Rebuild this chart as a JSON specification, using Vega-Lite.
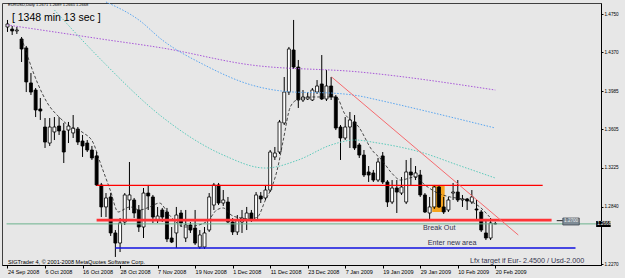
{
  "$schema": "https://vega.github.io/schema/vega-lite/v6.json",
  "width": 599,
  "height": 262,
  "autosize": "none",
  "padding": {"left": 2, "top": 3, "right": 24, "bottom": 13},
  "background": "#e7e7e7",
  "config": {"view": {"stroke": "#404040", "strokeWidth": 1, "fill": "#e7e7e7"}, "font": "Liberation Sans"},
  "datasets": {
    "candles": [
      {"i":0,"o":1.4621,"h":1.4691,"l":1.4572,"c":1.4651},
      {"i":1,"o":1.4601,"h":1.4631,"l":1.4542,"c":1.4582},
      {"i":2,"o":1.4582,"h":1.4621,"l":1.4552,"c":1.4591},
      {"i":3,"o":1.4502,"h":1.4522,"l":1.4274,"c":1.4403},
      {"i":4,"o":1.4413,"h":1.4433,"l":1.3976,"c":1.4076},
      {"i":5,"o":1.4066,"h":1.4165,"l":1.3947,"c":1.3976},
      {"i":6,"o":1.3996,"h":1.4016,"l":1.3728,"c":1.3798},
      {"i":7,"o":1.3808,"h":1.3917,"l":1.3699,"c":1.3788},
      {"i":8,"o":1.3629,"h":1.3718,"l":1.3421,"c":1.3480},
      {"i":9,"o":1.3470,"h":1.3718,"l":1.3441,"c":1.3629},
      {"i":10,"o":1.3580,"h":1.3728,"l":1.3500,"c":1.3629},
      {"i":11,"o":1.3639,"h":1.3728,"l":1.3550,"c":1.3590},
      {"i":12,"o":1.3590,"h":1.3669,"l":1.3272,"c":1.3381},
      {"i":13,"o":1.3599,"h":1.3679,"l":1.3470,"c":1.3639},
      {"i":14,"o":1.3570,"h":1.3748,"l":1.3520,"c":1.3619},
      {"i":15,"o":1.3609,"h":1.3629,"l":1.3451,"c":1.3480},
      {"i":16,"o":1.3490,"h":1.3550,"l":1.3332,"c":1.3441},
      {"i":17,"o":1.3470,"h":1.3500,"l":1.3381,"c":1.3401},
      {"i":18,"o":1.3401,"h":1.3441,"l":1.3302,"c":1.3322},
      {"i":19,"o":1.3342,"h":1.3381,"l":1.3044,"c":1.3054},
      {"i":20,"o":1.3054,"h":1.3074,"l":1.2736,"c":1.2836},
      {"i":21,"o":1.2836,"h":1.2974,"l":1.2736,"c":1.2925},
      {"i":22,"o":1.2935,"h":1.2974,"l":1.2548,"c":1.2578},
      {"i":23,"o":1.2578,"h":1.2607,"l":1.2340,"c":1.2478},
      {"i":24,"o":1.2478,"h":1.2726,"l":1.2389,"c":1.2677},
      {"i":25,"o":1.2687,"h":1.2974,"l":1.2657,"c":1.2955},
      {"i":26,"o":1.2905,"h":1.3282,"l":1.2806,"c":1.2955},
      {"i":27,"o":1.2905,"h":1.2925,"l":1.2726,"c":1.2776},
      {"i":28,"o":1.2806,"h":1.2855,"l":1.2588,"c":1.2637},
      {"i":29,"o":1.2637,"h":1.3024,"l":1.2528,"c":1.2974},
      {"i":30,"o":1.2974,"h":1.3054,"l":1.2806,"c":1.2945},
      {"i":31,"o":1.2935,"h":1.2955,"l":1.2677,"c":1.2736},
      {"i":32,"o":1.2707,"h":1.2836,"l":1.2677,"c":1.2746},
      {"i":33,"o":1.2806,"h":1.2826,"l":1.2687,"c":1.2736},
      {"i":34,"o":1.2786,"h":1.2826,"l":1.2488,"c":1.2518},
      {"i":35,"o":1.2528,"h":1.2637,"l":1.2478,"c":1.2488},
      {"i":36,"o":1.2578,"h":1.2836,"l":1.2429,"c":1.2756},
      {"i":37,"o":1.2776,"h":1.2806,"l":1.2637,"c":1.2677},
      {"i":38,"o":1.2528,"h":1.2806,"l":1.2488,"c":1.2657},
      {"i":39,"o":1.2657,"h":1.2687,"l":1.2578,"c":1.2607},
      {"i":40,"o":1.2627,"h":1.2806,"l":1.2459,"c":1.2478},
      {"i":41,"o":1.2439,"h":1.2607,"l":1.2419,"c":1.2558},
      {"i":42,"o":1.2439,"h":1.2637,"l":1.2419,"c":1.2578},
      {"i":43,"o":1.2607,"h":1.2974,"l":1.2588,"c":1.2935},
      {"i":44,"o":1.2855,"h":1.3074,"l":1.2806,"c":1.3054},
      {"i":45,"o":1.3054,"h":1.3074,"l":1.2855,"c":1.2875},
      {"i":46,"o":1.2875,"h":1.3004,"l":1.2846,"c":1.2905},
      {"i":47,"o":1.2885,"h":1.2935,"l":1.2677,"c":1.2687},
      {"i":48,"o":1.2687,"h":1.2726,"l":1.2558,"c":1.2588},
      {"i":49,"o":1.2588,"h":1.2756,"l":1.2558,"c":1.2707},
      {"i":50,"o":1.2687,"h":1.2806,"l":1.2578,"c":1.2726},
      {"i":51,"o":1.2707,"h":1.2836,"l":1.2607,"c":1.2776},
      {"i":52,"o":1.2776,"h":1.2806,"l":1.2687,"c":1.2707},
      {"i":53,"o":1.2707,"h":1.2984,"l":1.2697,"c":1.2955},
      {"i":54,"o":1.2945,"h":1.2984,"l":1.2875,"c":1.2915},
      {"i":55,"o":1.2925,"h":1.3054,"l":1.2905,"c":1.3004},
      {"i":56,"o":1.3004,"h":1.3401,"l":1.2984,"c":1.3381},
      {"i":57,"o":1.3332,"h":1.3431,"l":1.3302,"c":1.3371},
      {"i":58,"o":1.3381,"h":1.3699,"l":1.3361,"c":1.3679},
      {"i":59,"o":1.3669,"h":1.4125,"l":1.3649,"c":1.3976},
      {"i":60,"o":1.3976,"h":1.4423,"l":1.3947,"c":1.4403},
      {"i":61,"o":1.4393,"h":1.4691,"l":1.4205,"c":1.4224},
      {"i":62,"o":1.4224,"h":1.4294,"l":1.3818,"c":1.3897},
      {"i":63,"o":1.3897,"h":1.3996,"l":1.3877,"c":1.3927},
      {"i":64,"o":1.3907,"h":1.3976,"l":1.3897,"c":1.3927},
      {"i":65,"o":1.3897,"h":1.4016,"l":1.3887,"c":1.3996},
      {"i":66,"o":1.3976,"h":1.4095,"l":1.3957,"c":1.4036},
      {"i":67,"o":1.4056,"h":1.4343,"l":1.3897,"c":1.3907},
      {"i":68,"o":1.3907,"h":1.4195,"l":1.3887,"c":1.4036},
      {"i":69,"o":1.4036,"h":1.4125,"l":1.3897,"c":1.3927},
      {"i":70,"o":1.3927,"h":1.3947,"l":1.3599,"c":1.3619},
      {"i":71,"o":1.3629,"h":1.3649,"l":1.3302,"c":1.3520},
      {"i":72,"o":1.3520,"h":1.3728,"l":1.3500,"c":1.3629},
      {"i":73,"o":1.3629,"h":1.3778,"l":1.3421,"c":1.3699},
      {"i":74,"o":1.3679,"h":1.3748,"l":1.3401,"c":1.3421},
      {"i":75,"o":1.3451,"h":1.3470,"l":1.3322,"c":1.3351},
      {"i":76,"o":1.3351,"h":1.3401,"l":1.3133,"c":1.3153},
      {"i":77,"o":1.3183,"h":1.3242,"l":1.3084,"c":1.3153},
      {"i":78,"o":1.3173,"h":1.3203,"l":1.3084,"c":1.3103},
      {"i":79,"o":1.3103,"h":1.3322,"l":1.3084,"c":1.3282},
      {"i":80,"o":1.3342,"h":1.3381,"l":1.3064,"c":1.3084},
      {"i":81,"o":1.3084,"h":1.3103,"l":1.2836,"c":1.2885},
      {"i":82,"o":1.2885,"h":1.3103,"l":1.2865,"c":1.3024},
      {"i":83,"o":1.3024,"h":1.3103,"l":1.2776,"c":1.2984},
      {"i":84,"o":1.2974,"h":1.3133,"l":1.2955,"c":1.3034},
      {"i":85,"o":1.2885,"h":1.3302,"l":1.2865,"c":1.3183},
      {"i":86,"o":1.3183,"h":1.3322,"l":1.3044,"c":1.3153},
      {"i":87,"o":1.3133,"h":1.3242,"l":1.3103,"c":1.3173},
      {"i":88,"o":1.3153,"h":1.3203,"l":1.2935,"c":1.2955},
      {"i":89,"o":1.2955,"h":1.2974,"l":1.2776,"c":1.2786},
      {"i":90,"o":1.2776,"h":1.2935,"l":1.2707,"c":1.2836},
      {"i":91,"o":1.2836,"h":1.3054,"l":1.2816,"c":1.3034},
      {"i":92,"o":1.3034,"h":1.3054,"l":1.2826,"c":1.2836},
      {"i":93,"o":1.2836,"h":1.2935,"l":1.2766,"c":1.2786},
      {"i":94,"o":1.2806,"h":1.2935,"l":1.2786,"c":1.2905},
      {"i":95,"o":1.2974,"h":1.3074,"l":1.2905,"c":1.2984},
      {"i":96,"o":1.2984,"h":1.3103,"l":1.2885,"c":1.2905},
      {"i":97,"o":1.2905,"h":1.2955,"l":1.2836,"c":1.2915},
      {"i":98,"o":1.2915,"h":1.2925,"l":1.2806,"c":1.2895},
      {"i":99,"o":1.2885,"h":1.3004,"l":1.2865,"c":1.2935},
      {"i":100,"o":1.2816,"h":1.2905,"l":1.2717,"c":1.2806},
      {"i":101,"o":1.2786,"h":1.2806,"l":1.2588,"c":1.2607},
      {"i":102,"o":1.2578,"h":1.2717,"l":1.2508,"c":1.2528},
      {"i":103,"o":1.2528,"h":1.2726,"l":1.2508,"c":1.2677},
      {"i":104,"o":1.2671,"h":1.2689,"l":1.2665,"c":1.2668}
    ],
    "levels": [
      {"k":"up","i":19,"i2":114.1,"p":1.3050},
      {"k":"low","i":19,"i2":116,"p":1.2705},
      {"k":"bid","i":-0.2,"i2":125.5,"p":1.2668},
      {"k":"blue","i":23,"i2":121.1,"p":1.2429},
      {"k":"tick","i":117.1,"i2":118.4,"p":1.2700}
    ],
    "trend": [{"i":69.1,"i2":108.9,"p":1.4125,"p2":1.2558}],
    "mas": [
      {"k":"purple","i":0,"p":1.4641},{"k":"purple","i":10,"p":1.4572},{"k":"purple","i":20,"p":1.4502},{"k":"purple","i":33,"p":1.4413},{"k":"purple","i":52,"p":1.4244},{"k":"purple","i":75,"p":1.4175},{"k":"purple","i":104,"p":1.3996},
      {"k":"blue","i":21,"p":1.4869},{"k":"blue","i":28,"p":1.4691},{"k":"blue","i":33,"p":1.4492},{"k":"blue","i":42,"p":1.4244},{"k":"blue","i":52,"p":1.4046},{"k":"blue","i":61,"p":1.3976},{"k":"blue","i":69,"p":1.3966},{"k":"blue","i":75,"p":1.3937},{"k":"blue","i":79,"p":1.3897},{"k":"blue","i":90,"p":1.3778},{"k":"blue","i":104,"p":1.3619},
      {"k":"teal","i":10,"p":1.4790},{"k":"teal","i":20,"p":1.4294},{"k":"teal","i":33,"p":1.3728},{"k":"teal","i":46,"p":1.3351},{"k":"teal","i":55,"p":1.3222},{"k":"teal","i":62,"p":1.3302},{"k":"teal","i":69,"p":1.3451},{"k":"teal","i":74,"p":1.3500},{"k":"teal","i":79,"p":1.3470},{"k":"teal","i":88,"p":1.3381},{"k":"teal","i":96,"p":1.3252},{"k":"teal","i":104,"p":1.3123},
      {"k":"black","i":3,"p":1.4512},{"k":"black","i":6.4,"p":1.4066},{"k":"black","i":8.5,"p":1.3867},{"k":"black","i":11,"p":1.3728},{"k":"black","i":13.5,"p":1.3629},{"k":"black","i":16.2,"p":1.3570},{"k":"black","i":18.3,"p":1.3470},{"k":"black","i":19.8,"p":1.3272},{"k":"black","i":21.9,"p":1.3004},{"k":"black","i":23.6,"p":1.2786},{"k":"black","i":24.6,"p":1.2806},{"k":"black","i":26.1,"p":1.2836},{"k":"black","i":28.2,"p":1.2806},{"k":"black","i":30.3,"p":1.2836},{"k":"black","i":32.4,"p":1.2875},{"k":"black","i":34.5,"p":1.2756},{"k":"black","i":37.8,"p":1.2637},{"k":"black","i":40.8,"p":1.2657},{"k":"black","i":42.9,"p":1.2707},{"k":"black","i":44.6,"p":1.2806},{"k":"black","i":46,"p":1.2826},{"k":"black","i":47.7,"p":1.2756},{"k":"black","i":49.8,"p":1.2726},{"k":"black","i":51.9,"p":1.2717},{"k":"black","i":53.3,"p":1.2736},{"k":"black","i":55,"p":1.2905},{"k":"black","i":56.1,"p":1.3004},{"k":"black","i":57.5,"p":1.3203},{"k":"black","i":58.8,"p":1.3500},{"k":"black","i":60.3,"p":1.3828},{"k":"black","i":61.7,"p":1.3897},{"k":"black","i":65.1,"p":1.3927},{"k":"black","i":70.1,"p":1.3927},{"k":"black","i":71.8,"p":1.3768},{"k":"black","i":74.9,"p":1.3629},{"k":"black","i":77.7,"p":1.3401},{"k":"black","i":79.8,"p":1.3302},{"k":"black","i":81.9,"p":1.3173},{"k":"black","i":83.8,"p":1.3103},{"k":"black","i":86.9,"p":1.3133},{"k":"black","i":89,"p":1.3054},{"k":"black","i":91.7,"p":1.2974},{"k":"black","i":94.4,"p":1.2935},{"k":"black","i":98,"p":1.2905},{"k":"black","i":100.7,"p":1.2836},{"k":"black","i":102.8,"p":1.2736}
    ]
  },
  "layer": [
    {
      "data": {"values": [{"i":90.55,"i2":93.2,"p":1.2786,"p2":1.3054}]},
      "mark": {"type": "rect", "fill": "#f5a31e"},
      "encoding": {
        "x": {"field": "i", "type": "quantitative", "scale": {"domain": [-0.105, 125.47], "nice": false, "zero": false},
          "axis": {"orient": "bottom", "values": [0,8,16,24,32,40,48,56,64,72,80,88,96,104],
            "labelExpr": "['24 Sep 2008','6 Oct 2008','16 Oct 2008','28 Oct 2008','7 Nov 2008','19 Nov 2008','1 Dec 2008','11 Dec 2008','23 Dec 2008','7 Jan 2009','19 Jan 2009','29 Jan 2009','10 Feb 2009','20 Feb 2009'][round(datum.value/8)]",
            "labelAlign": "left", "labelBaseline": "top", "labelFontSize": 5.5, "labelColor": "#000", "tickSize": 3, "tickColor": "#000", "domainColor": "#000", "labelPadding": 1, "title": null, "grid": false, "labelOverlap": false, "labelFlush": false, "labelBound": false}},
        "x2": {"field": "i2"},
        "y": {"field": "p", "type": "quantitative", "scale": {"domain": [1.22602, 1.48592], "nice": false, "zero": false},
          "axis": {"orient": "right", "values": [1.4750,1.4560,1.4370,1.4175,1.3985,1.3795,1.3605,1.3415,1.3225,1.3030,1.2840,1.2460,1.2270],
            "format": ".4f", "labelFontSize": 4.6, "labelColor": "#000", "tickSize": 2, "tickColor": "#000", "domainColor": "#000", "labelPadding": 1, "title": null, "grid": false, "labelOverlap": false, "labelFlush": false, "labelBound": false}},
        "y2": {"field": "p2"}
      }
    },
    {
      "data": {"name": "candles"},
      "mark": {"type": "rule", "color": "#000", "strokeWidth": 1},
      "encoding": {
        "x": {"field": "i", "type": "quantitative", "scale": {"domain": [-0.105, 125.47], "nice": false, "zero": false}},
        "y": {"field": "l", "type": "quantitative", "scale": {"domain": [1.22602, 1.48592], "nice": false, "zero": false}},
        "y2": {"field": "h"}
      }
    },
    {
      "data": {"name": "candles"},
      "mark": {"type": "bar", "size": 3, "stroke": "#000", "strokeWidth": 0.8},
      "encoding": {
        "x": {"field": "i", "type": "quantitative", "scale": {"domain": [-0.105, 125.47], "nice": false, "zero": false}},
        "y": {"field": "o", "type": "quantitative", "scale": {"domain": [1.22602, 1.48592], "nice": false, "zero": false}},
        "y2": {"field": "c"},
        "fill": {"condition": {"test": "datum.c > datum.o", "value": "#ffffff"}, "value": "#000000"}
      }
    },
    {
      "data": {"name": "mas"},
      "transform": [{"filter": "datum.k == 'purple'"}],
      "mark": {"type": "line", "color": "#a857d8", "strokeWidth": 1, "strokeDash": [1.5, 1.5], "interpolate": "monotone"},
      "encoding": {
        "x": {"field": "i", "type": "quantitative", "scale": {"domain": [-0.105, 125.47], "nice": false, "zero": false}},
        "y": {"field": "p", "type": "quantitative", "scale": {"domain": [1.22602, 1.48592], "nice": false, "zero": false}}
      }
    },
    {
      "data": {"name": "mas"},
      "transform": [{"filter": "datum.k == 'blue'"}],
      "mark": {"type": "line", "color": "#5aa6f0", "strokeWidth": 1, "strokeDash": [1.5, 1.5], "interpolate": "monotone"},
      "encoding": {
        "x": {"field": "i", "type": "quantitative", "scale": {"domain": [-0.105, 125.47], "nice": false, "zero": false}},
        "y": {"field": "p", "type": "quantitative", "scale": {"domain": [1.22602, 1.48592], "nice": false, "zero": false}}
      }
    },
    {
      "data": {"name": "mas"},
      "transform": [{"filter": "datum.k == 'teal'"}],
      "mark": {"type": "line", "color": "#5ccabb", "strokeWidth": 1, "strokeDash": [1.5, 1.5], "interpolate": "monotone"},
      "encoding": {
        "x": {"field": "i", "type": "quantitative", "scale": {"domain": [-0.105, 125.47], "nice": false, "zero": false}},
        "y": {"field": "p", "type": "quantitative", "scale": {"domain": [1.22602, 1.48592], "nice": false, "zero": false}}
      }
    },
    {
      "data": {"name": "mas"},
      "transform": [{"filter": "datum.k == 'black'"}],
      "mark": {"type": "line", "color": "#202020", "strokeWidth": 0.8, "strokeDash": [3, 2], "interpolate": "monotone"},
      "encoding": {
        "x": {"field": "i", "type": "quantitative", "scale": {"domain": [-0.105, 125.47], "nice": false, "zero": false}},
        "y": {"field": "p", "type": "quantitative", "scale": {"domain": [1.22602, 1.48592], "nice": false, "zero": false}}
      }
    },
    {
      "data": {"name": "levels"},
      "transform": [{"filter": "datum.k == 'bid'"}],
      "mark": {"type": "rule", "color": "#6cb38e", "strokeWidth": 1},
      "encoding": {
        "x": {"field": "i", "type": "quantitative", "scale": {"domain": [-0.105, 125.47], "nice": false, "zero": false}},
        "x2": {"field": "i2"},
        "y": {"field": "p", "type": "quantitative", "scale": {"domain": [1.22602, 1.48592], "nice": false, "zero": false}}
      }
    },
    {
      "data": {"name": "levels"},
      "transform": [{"filter": "datum.k == 'up'"}],
      "mark": {"type": "rule", "color": "#ff0000", "strokeWidth": 1.2},
      "encoding": {
        "x": {"field": "i", "type": "quantitative", "scale": {"domain": [-0.105, 125.47], "nice": false, "zero": false}},
        "x2": {"field": "i2"},
        "y": {"field": "p", "type": "quantitative", "scale": {"domain": [1.22602, 1.48592], "nice": false, "zero": false}}
      }
    },
    {
      "data": {"name": "levels"},
      "transform": [{"filter": "datum.k == 'low'"}],
      "mark": {"type": "rule", "color": "#ff3336", "strokeWidth": 2.6},
      "encoding": {
        "x": {"field": "i", "type": "quantitative", "scale": {"domain": [-0.105, 125.47], "nice": false, "zero": false}},
        "x2": {"field": "i2"},
        "y": {"field": "p", "type": "quantitative", "scale": {"domain": [1.22602, 1.48592], "nice": false, "zero": false}}
      }
    },
    {
      "data": {"name": "levels"},
      "transform": [{"filter": "datum.k == 'blue'"}],
      "mark": {"type": "rule", "color": "#1010e0", "strokeWidth": 1.5},
      "encoding": {
        "x": {"field": "i", "type": "quantitative", "scale": {"domain": [-0.105, 125.47], "nice": false, "zero": false}},
        "x2": {"field": "i2"},
        "y": {"field": "p", "type": "quantitative", "scale": {"domain": [1.22602, 1.48592], "nice": false, "zero": false}}
      }
    },
    {
      "data": {"name": "levels"},
      "transform": [{"filter": "datum.k == 'tick'"}],
      "mark": {"type": "rule", "color": "#202020", "strokeWidth": 1},
      "encoding": {
        "x": {"field": "i", "type": "quantitative", "scale": {"domain": [-0.105, 125.47], "nice": false, "zero": false}},
        "x2": {"field": "i2"},
        "y": {"field": "p", "type": "quantitative", "scale": {"domain": [1.22602, 1.48592], "nice": false, "zero": false}}
      }
    },
    {
      "data": {"name": "trend"},
      "mark": {"type": "rule", "color": "#f56a6e", "strokeWidth": 1},
      "encoding": {
        "x": {"field": "i", "type": "quantitative", "scale": {"domain": [-0.105, 125.47], "nice": false, "zero": false}},
        "x2": {"field": "i2"},
        "y": {"field": "p", "type": "quantitative", "scale": {"domain": [1.22602, 1.48592], "nice": false, "zero": false}},
        "y2": {"field": "p2"}
      }
    },
    {
      "data": {"values": [{"i":118.4,"i2":121.9,"p":1.2657,"p2":1.2726,"t":"1.2700"}]},
      "layer": [
        {"mark": {"type": "rect", "fill": "#7f8c96", "stroke": "#404850", "strokeWidth": 0.8}},
        {"mark": {"type": "text", "fontSize": 4.6, "color": "#eeeeee", "align": "center", "baseline": "middle", "xOffset": 8.3, "yOffset": -3.5}, "encoding": {"text": {"field": "t"}, "x2": null, "y2": null}}
      ],
      "encoding": {
        "x": {"field": "i", "type": "quantitative", "scale": {"domain": [-0.105, 125.47], "nice": false, "zero": false}},
        "x2": {"field": "i2"},
        "y": {"field": "p", "type": "quantitative", "scale": {"domain": [1.22602, 1.48592], "nice": false, "zero": false}},
        "y2": {"field": "p2"}
      }
    },
    {
      "data": {"values": [{"i":125.5,"i2":128.6,"p":1.2637,"p2":1.2697,"t":"1.2668"}]},
      "layer": [
        {"mark": {"type": "rect", "fill": "#000000"}},
        {"mark": {"type": "text", "fontSize": 4.6, "color": "#ffffff", "align": "left", "baseline": "middle", "dx": 1, "yOffset": -3}, "encoding": {"text": {"field": "t"}, "x2": null, "y2": null}}
      ],
      "encoding": {
        "x": {"field": "i", "type": "quantitative", "scale": {"domain": [-0.105, 125.47], "nice": false, "zero": false}},
        "x2": {"field": "i2"},
        "y": {"field": "p", "type": "quantitative", "scale": {"domain": [1.22602, 1.48592], "nice": false, "zero": false}},
        "y2": {"field": "p2"}
      }
    },
    {
      "data": {"values": [{"t":"EURUSD,Daily  1.2671 1.2689 1.2665 1.2668","i":0.1,"p":1.4839}]},
      "mark": {"type": "text", "fontSize": 4, "color": "#000", "align": "left", "baseline": "middle"},
      "encoding": {
        "x": {"field": "i", "type": "quantitative", "scale": {"domain": [-0.105, 125.47], "nice": false, "zero": false}},
        "y": {"field": "p", "type": "quantitative", "scale": {"domain": [1.22602, 1.48592], "nice": false, "zero": false}},
        "text": {"field": "t"}
      }
    },
    {
      "data": {"values": [{"t":"[ 1348 min 13 sec ]","i":0.94,"p":1.4715}]},
      "mark": {"type": "text", "fontSize": 10.5, "color": "#000", "align": "left", "baseline": "middle"},
      "encoding": {
        "x": {"field": "i", "type": "quantitative", "scale": {"domain": [-0.105, 125.47], "nice": false, "zero": false}},
        "y": {"field": "p", "type": "quantitative", "scale": {"domain": [1.22602, 1.48592], "nice": false, "zero": false}},
        "text": {"field": "t"}
      }
    },
    {
      "data": {"values": [{"t":"SIGTrader 4, © 2001-2008 MetaQuotes Software Corp.","i":0.1,"p":1.2287}]},
      "mark": {"type": "text", "fontSize": 5.6, "color": "#000", "align": "left", "baseline": "middle"},
      "encoding": {
        "x": {"field": "i", "type": "quantitative", "scale": {"domain": [-0.105, 125.47], "nice": false, "zero": false}},
        "y": {"field": "p", "type": "quantitative", "scale": {"domain": [1.22602, 1.48592], "nice": false, "zero": false}},
        "text": {"field": "t"}
      }
    },
    {
      "data": {"values": [{"t":"Break Out","i":88.6,"p":1.2632},{"t":"Enter new area","i":89.6,"p":1.2478},{"t":"Lfx target if  Eur- 2.4500 / Usd-2.000","i":98.6,"p":1.2300}]},
      "mark": {"type": "text", "fontSize": 7.2, "color": "#34344e", "align": "left", "baseline": "middle"},
      "encoding": {
        "x": {"field": "i", "type": "quantitative", "scale": {"domain": [-0.105, 125.47], "nice": false, "zero": false}},
        "y": {"field": "p", "type": "quantitative", "scale": {"domain": [1.22602, 1.48592], "nice": false, "zero": false}},
        "text": {"field": "t"}
      }
    }
  ]
}
